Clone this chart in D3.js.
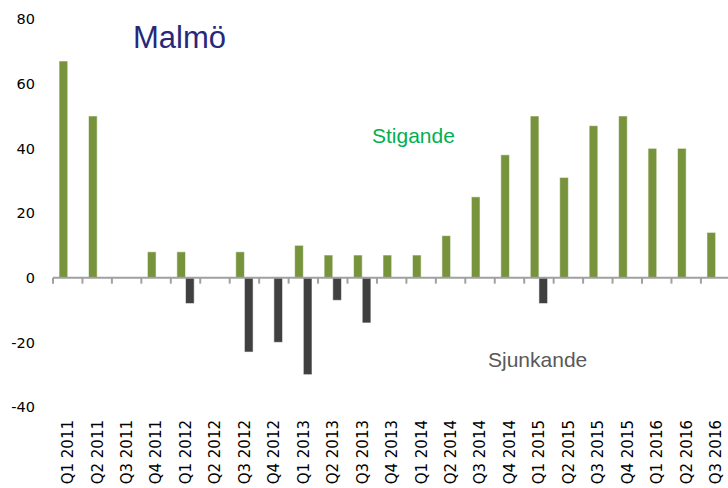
<!DOCTYPE html>
<html lang="sv">
<head>
<meta charset="utf-8">
<title>Malmö</title>
<script src="https://d3js.org/d3.v7.min.js"></script>
<style>
  body { margin: 0; background: #fff; }
</style>
</head>
<body>
<script>
var quarters = ["Q1 2011","Q2 2011","Q3 2011","Q4 2011","Q1 2012","Q2 2012","Q3 2012","Q4 2012",
                "Q1 2013","Q2 2013","Q3 2013","Q4 2013","Q1 2014","Q2 2014","Q3 2014","Q4 2014",
                "Q1 2015","Q2 2015","Q3 2015","Q4 2015","Q1 2016","Q2 2016","Q3 2016"];
var stigande  = [67, 50, 0, 8, 8, 0, 8, 0, 10, 7, 7, 7, 7, 13, 25, 38, 50, 31, 47, 50, 40, 40, 14];
var sjunkande = [0, 0, 0, 0, -8, 0, -23, -20, -30, -7, -14, 0, 0, 0, 0, 0, -8, 0, 0, 0, 0, 0, 0];
var yTicks = [-40, -20, 0, 20, 40, 60, 80];
var seriesNames = ["Stigande", "Sjunkande"];

var w = 728, h = 488;
var x0 = 53, step = 29.45;

var svg = d3.select("body").append("svg")
    .attr("width", w)
    .attr("height", h);

var x = d3.scaleBand()
    .domain(quarters)
    .range([x0, x0 + step * quarters.length])
    .padding(0);

var xs = d3.scaleBand()
    .domain(seriesNames)
    .range([0, x.bandwidth()])
    .paddingInner(0)
    .paddingOuter(0.7);

var y = d3.scaleLinear()
    .domain([-40, 80])
    .range([407, 19]);

// y labels (no axis line)
svg.append("g")
    .selectAll("text")
    .data(yTicks)
    .enter().append("text")
    .attr("x", 35)
    .attr("y", function(d) { return y(d); })
    .attr("dy", "0.36em")
    .attr("text-anchor", "end")
    .style("font-family", "'DejaVu Sans', sans-serif")
    .style("font-size", "14.5px")
    .style("fill", "#000")
    .text(function(d) { return d; });

var rows = quarters.map(function(q, i) {
  return { q: q, vals: [{ s: "Stigande", v: stigande[i] }, { s: "Sjunkande", v: sjunkande[i] }] };
});

var colors = { "Stigande": "#77933c", "Sjunkande": "#404040" };

svg.append("g")
    .selectAll("g")
    .data(rows)
    .enter().append("g")
    .attr("transform", function(d) { return "translate(" + x(d.q) + ",0)"; })
    .selectAll("rect")
    .data(function(d) { return d.vals.filter(function(e) { return e.v !== 0; }); })
    .enter().append("rect")
    .attr("x", function(d) { return xs(d.s); })
    .attr("width", xs.bandwidth())
    .attr("y", function(d) { return y(Math.max(0, d.v)); })
    .attr("height", function(d) { return Math.abs(y(d.v) - y(0)); })
    .style("fill", function(d) { return colors[d.s]; })
    .style("stroke", "rgba(255,255,255,0.55)")
    .style("stroke-width", 1);

// category axis at zero
var xAxis = d3.axisBottom(x).tickSize(0).tickFormat("");
var gx = svg.append("g").attr("transform", "translate(0," + y(0) + ")");
gx.append("line")
    .attr("x1", x0).attr("x2", w)
    .attr("y1", 0).attr("y2", 0)
    .style("stroke", "#a0a0a0")
    .style("stroke-width", 2);
gx.selectAll(".tk")
    .data(quarters)
    .enter().append("line")
    .attr("class", "tk")
    .attr("x1", function(d) { return x(d); })
    .attr("x2", function(d) { return x(d); })
    .attr("y1", 0).attr("y2", 6)
    .style("stroke", "#a0a0a0")
    .style("stroke-width", 2);

// rotated category labels
svg.append("g")
    .selectAll("text")
    .data(quarters)
    .enter().append("text")
    .attr("transform", function(d) {
      return "translate(" + (x(d) + x.bandwidth() / 2) + ",420) rotate(-90)";
    })
    .attr("dy", "0.36em")
    .attr("text-anchor", "end")
    .style("font-family", "'DejaVu Sans', sans-serif")
    .style("font-size", "15px")
    .style("fill", "#000")
    .text(function(d) { return d; });

// title and series labels
svg.append("text")
    .attr("x", 133).attr("y", 48)
    .style("font-family", "'Liberation Sans', Arial, sans-serif")
    .style("font-size", "31px")
    .style("fill", "#28287a")
    .text("Malmö");

svg.append("text")
    .attr("x", 372).attr("y", 143)
    .style("font-family", "'Liberation Sans', Arial, sans-serif")
    .style("font-size", "21px")
    .style("fill", "#00b050")
    .text("Stigande");

svg.append("text")
    .attr("x", 488).attr("y", 367)
    .style("font-family", "'Liberation Sans', Arial, sans-serif")
    .style("font-size", "21px")
    .style("fill", "#595959")
    .text("Sjunkande");
</script>
</body>
</html>
